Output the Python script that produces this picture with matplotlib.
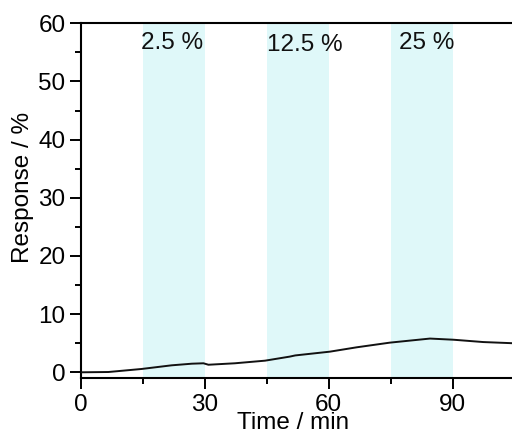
import numpy as np
import matplotlib
matplotlib.use('Agg')
from matplotlib import pyplot as plt
from matplotlib.ticker import MultipleLocator

plt.rcParams['font.family'] = ['Liberation Sans', 'DejaVu Sans']

# response curve
time = [0, 6.7, 14.7, 22, 26.9, 29.7, 30.9, 37.3, 44.6, 50.6, 51.9, 60.3,
        66.8, 74.8, 84.5, 90.2, 97.4, 104.5]
response = [0, 0.05, 0.57, 1.2, 1.48, 1.55, 1.3, 1.55, 2.0, 2.7, 2.9, 3.55,
            4.3, 5.1, 5.8, 5.6, 5.2, 5.0]

# exposure windows (start, end) and their concentration labels
windows = [(15, 30), (45, 60), (75, 90)]
window_labels = ['2.5 %', '12.5 %', '25 %']
label_x = [22.2, 54.3, 83.8]
label_y = [56.6, 56.2, 56.7]

fig = plt.figure(figsize=(5.12, 4.34), dpi=100)
ax = fig.add_axes([0.1576, 0.1297, 0.8424, 0.8166])

for (t0, t1) in windows:
    ax.axvspan(t0, t1, color='#dff8f9', lw=0, zorder=0)

ax.plot(time, response, color='#111111', lw=1.4, zorder=3)

for lab, x, y in zip(window_labels, label_x, label_y):
    ax.text(x, y, lab, ha='center', va='center', fontsize=17.5, color='#111111')

ax.set_xlim(0, 104.35)
ax.set_ylim(-0.93, 60)
ax.xaxis.set_major_locator(MultipleLocator(30))
ax.xaxis.set_minor_locator(MultipleLocator(15))
ax.yaxis.set_major_locator(MultipleLocator(10))
ax.yaxis.set_minor_locator(MultipleLocator(5))
ax.tick_params(which='major', direction='out', length=8, width=1.4,
               labelsize=17.5, pad=3)
ax.tick_params(axis='x', which='major', pad=4)
ax.tick_params(which='minor', direction='out', length=4, width=1.4)
ax.tick_params(top=False, right=False, which='both')

for s in ['left', 'bottom', 'top']:
    ax.spines[s].set_linewidth(1.5)
ax.spines['right'].set_visible(False)

ax.set_xlabel('Time / min', fontsize=17.5)
ax.xaxis.set_label_coords(0.492, -0.098)
ax.set_ylabel('Response / %', fontsize=17.5)
ax.yaxis.set_label_coords(-0.108, 0.538)

plt.savefig('out.png', dpi=100)
